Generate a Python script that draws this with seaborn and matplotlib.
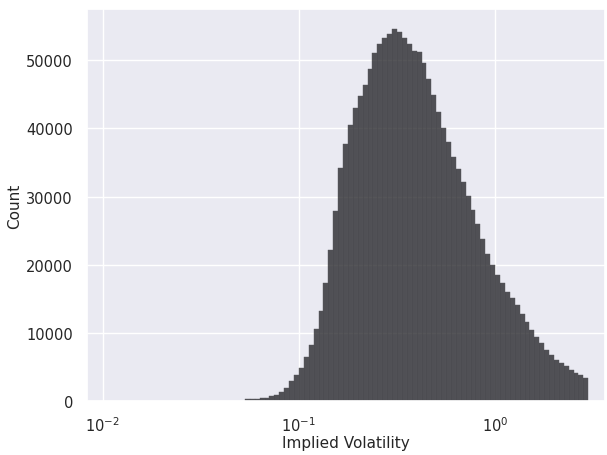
import numpy as np
import seaborn as sns
import matplotlib.pyplot as plt

# bin centres (log10 of implied volatility) and counts
log_iv = [-1.2625, -1.2375, -1.2125, -1.1875, -1.1625, -1.1375, -1.1125, -1.0875, -1.0625, -1.0375,
          -1.0125, -0.9875, -0.9625, -0.9375, -0.9125, -0.8875, -0.8625, -0.8375, -0.8125, -0.7875,
          -0.7625, -0.7375, -0.7125, -0.6875, -0.6625, -0.6375, -0.6125, -0.5875, -0.5625, -0.5375,
          -0.5125, -0.4875, -0.4625, -0.4375, -0.4125, -0.3875, -0.3625, -0.3375, -0.3125, -0.2875,
          -0.2625, -0.2375, -0.2125, -0.1875, -0.1625, -0.1375, -0.1125, -0.0875, -0.0625, -0.0375,
          -0.0125, 0.0125, 0.0375, 0.0625, 0.0875, 0.1125, 0.1375, 0.1625, 0.1875, 0.2125,
          0.2375, 0.2625, 0.2875, 0.3125, 0.3375, 0.3625, 0.3875, 0.4125, 0.4375, 0.4625]
counts = [250, 300, 350, 420, 520, 700, 950, 1350, 1950, 2900,
          3900, 4900, 6500, 8200, 10600, 13200, 17300, 22200, 27900, 34200,
          37700, 40500, 43000, 44800, 46400, 48700, 51000, 52400, 53200, 53900,
          54500, 54200, 53200, 52300, 51400, 51200, 49600, 47300, 44900, 42400,
          40100, 38000, 35800, 34000, 32100, 30100, 28100, 26000, 23800, 21600,
          19900, 18500, 17300, 16000, 15100, 14100, 12800, 11600, 10500, 9400,
          8500, 7500, 6700, 6100, 5600, 5100, 4600, 4200, 3850, 3350]

iv = 10 ** np.array(log_iv)

sns.set_theme()
fig = plt.figure(figsize=(6.07, 4.56), dpi=100)
ax = fig.add_axes([0.143, 0.118, 0.854, 0.86])
sns.histplot(x=iv, weights=counts, bins=len(counts), binrange=(-1.275, 0.475),
             log_scale=True, color='#2a2a2e', alpha=0.8,
             edgecolor='#55555a', linewidth=0.3, ax=ax)
ax.set_xlim(0.0083, 3.64)
ax.set_ylim(0, 57500)
ax.tick_params(labelsize=10.5, pad=4)
ax.set_xlabel('Implied Volatility', fontsize=11, labelpad=1)
ax.set_ylabel('Count', fontsize=11, labelpad=3)
plt.savefig('out.png', dpi=100)
